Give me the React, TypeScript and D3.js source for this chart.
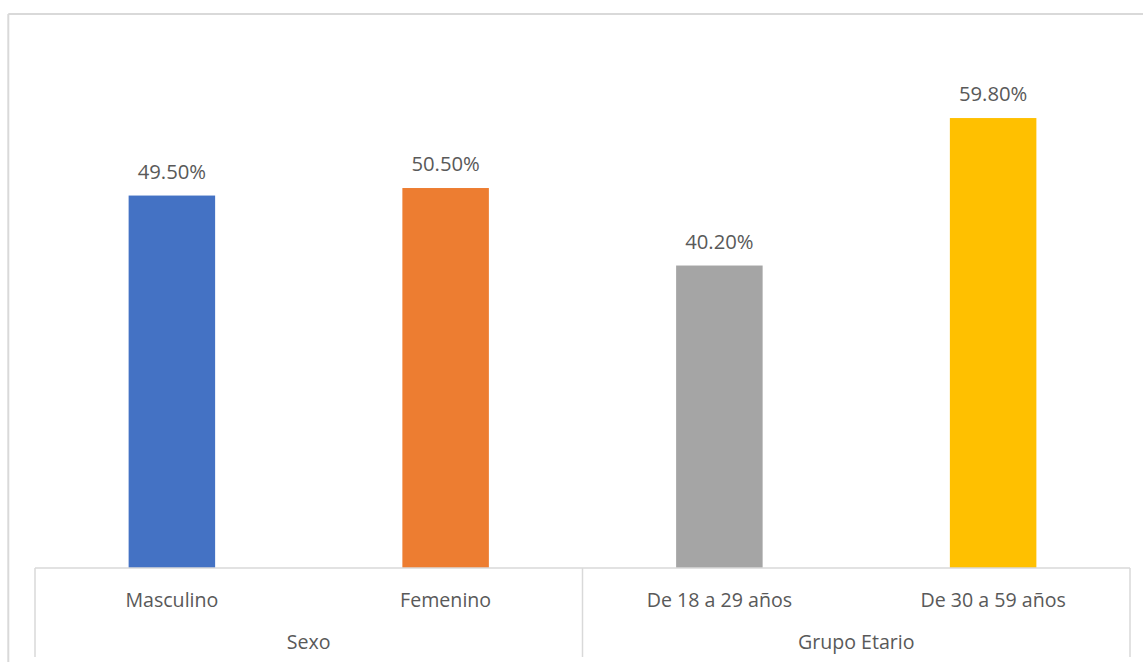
import React from "react";
import * as d3 from "d3";

const categories = ["Masculino", "Femenino", "De 18 a 29 años", "De 30 a 59 años"];
const values = [49.5, 50.5, 40.2, 59.8];
const colors = ["#4472C4", "#ED7D31", "#A5A5A5", "#FFC000"];
const groups = [
  { name: "Sexo", members: ["Masculino", "Femenino"] },
  { name: "Grupo Etario", members: ["De 18 a 29 años", "De 30 a 59 años"] },
];

const W = 1143;
const H = 662;
const left = 35;
const right = 1130;
const baseY = 568;
const topY = 41.3;
const font = "'Open Sans', sans-serif";
const gridColor = "#D9D9D9";
const textColor = "#595959";

export default function App() {
  const x = d3.scaleBand<string>().domain(categories).range([left, right]).padding(0);
  const y = d3.scaleLinear().domain([0, 70]).range([baseY, topY]);
  const bw = x.bandwidth() * 0.316;

  const groupBounds = groups.map((g) => {
    const x0 = x(g.members[0])!;
    const x1 = x(g.members[g.members.length - 1])! + x.bandwidth();
    return { ...g, x0, x1 };
  });
  const separators = [left, ...groupBounds.map((g) => g.x1)];

  return (
    <div style={{ position: "absolute", left: 0, top: 0 }}>
      <svg width={W} height={H} style={{ display: "block", background: "#fff" }}>
        {/* chart border */}
        <line x1={8.3} y1={14} x2={W} y2={14} stroke={gridColor} strokeWidth={2} />
        <line x1={8.3} y1={14} x2={8.3} y2={H} stroke={gridColor} strokeWidth={2} />

        {/* bars */}
        {categories.map((c, i) => {
          const cx = x(c)! + x.bandwidth() / 2;
          return (
            <g key={c}>
              <rect x={cx - bw / 2} y={y(values[i])} width={bw} height={y(0) - y(values[i])} fill={colors[i]} />
              <text
                x={cx}
                y={y(values[i]) - 17}
                textAnchor="middle"
                fontFamily={font}
                fontSize={20.3}
                fill={textColor}
              >
                {values[i].toFixed(2) + "%"}
              </text>
              <text x={cx} y={606.5} textAnchor="middle" fontFamily={font} fontSize={19.6} fill={textColor}>
                {c}
              </text>
            </g>
          );
        })}

        {/* axis */}
        <line x1={left} y1={baseY} x2={right} y2={baseY} stroke={gridColor} strokeWidth={1.5} />
        {separators.map((sx, i) => (
          <line key={i} x1={sx} y1={baseY} x2={sx} y2={657} stroke={gridColor} strokeWidth={1.5} />
        ))}
        {groupBounds.map((g) => (
          <text
            key={g.name}
            x={(g.x0 + g.x1) / 2}
            y={649}
            textAnchor="middle"
            fontFamily={font}
            fontSize={19.6}
            fill={textColor}
          >
            {g.name}
          </text>
        ))}
      </svg>
    </div>
  );
}
